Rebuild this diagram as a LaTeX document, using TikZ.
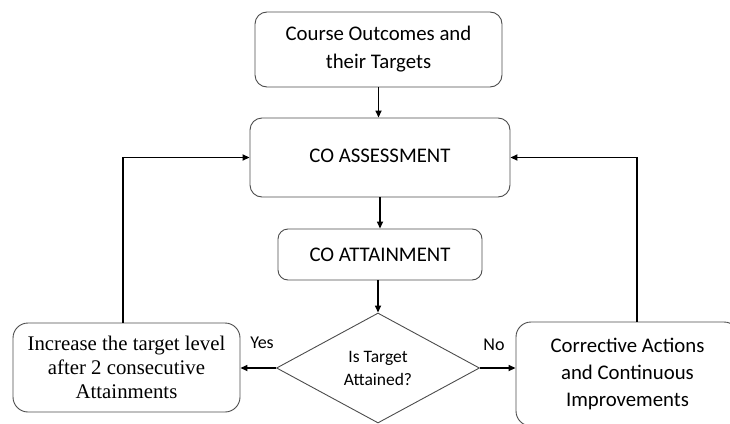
\documentclass[tikz,border=0pt]{standalone}
\usepackage{fontspec}
\setmainfont{Carlito}
\newfontfamily\timesf{Liberation Serif}
\usetikzlibrary{shapes.geometric,arrows.meta}
\tikzset{
  rbox/.style={draw=black!70, line width=0.9pt, rounded corners=12pt, align=center,
    font=\fontsize{20.8}{28}\selectfont, inner sep=0pt},
  conn/.style={line width=1.6pt, -{Triangle[length=7pt,width=6pt]}},
  lbl/.style={font=\fontsize{18}{20}\selectfont, inner sep=0pt}
}
\begin{document}
\begin{tikzpicture}[x=1pt,y=1pt]
\useasboundingbox (0,0) rectangle (730,-423);
\node[rbox, minimum width=247pt, minimum height=75pt] (top) at (378.5,-49.5) {Course Outcomes and\\their Targets};
\node[rbox, minimum width=260pt, minimum height=79pt] (assess) at (380,-157.5) {\raisebox{4pt}{CO ASSESSMENT}};
\node[rbox, rounded corners=10pt, minimum width=204pt, minimum height=51pt] (attain) at (380,-254.5) {CO ATTAINMENT};
\node[draw=black!70, line width=0.9pt, shape=diamond, aspect=2, inner sep=0pt, minimum width=203pt, minimum height=110pt,
  align=center, font=\fontsize{17.5}{23}\selectfont] (dec) at (378,-368) {Is Target\\Attained?};
\node[rbox, rounded corners=15pt, minimum width=227pt, minimum height=89pt, font=\timesf\fontsize{20.8}{24}\selectfont] (inc) at (126.5,-367.5) {Increase the target level\\after 2 consecutive\\Attainments};
\node[rbox, rounded corners=15pt, minimum width=223pt, minimum height=104pt, font=\fontsize{20.8}{27}\selectfont] (corr) at (627.5,-374) {Corrective Actions\\and Continuous\\Improvements};
\coordinate (lc) at (123,-157.5);
\coordinate (rc) at (637,-157.5);
\draw[conn] (top) -- (top |- assess.north);
\draw[conn] (assess.south -| attain) -- (attain);
\draw[conn] (attain.south -| dec.north) -- (dec.north);
\draw[conn] (dec.west) -- (inc.east |- dec.west);
\draw[conn] (dec.east) -- (corr.west |- dec.east);
\draw[conn] (inc.north -| lc) -- (lc) -- (assess.west);
\draw[conn] (corr.north -| rc) -- (rc) -- (assess.east);
\node[lbl] (yes) at (262,-343) {Yes};
\node[lbl] (no) at (494,-345) {No};
\end{tikzpicture}
\end{document}
